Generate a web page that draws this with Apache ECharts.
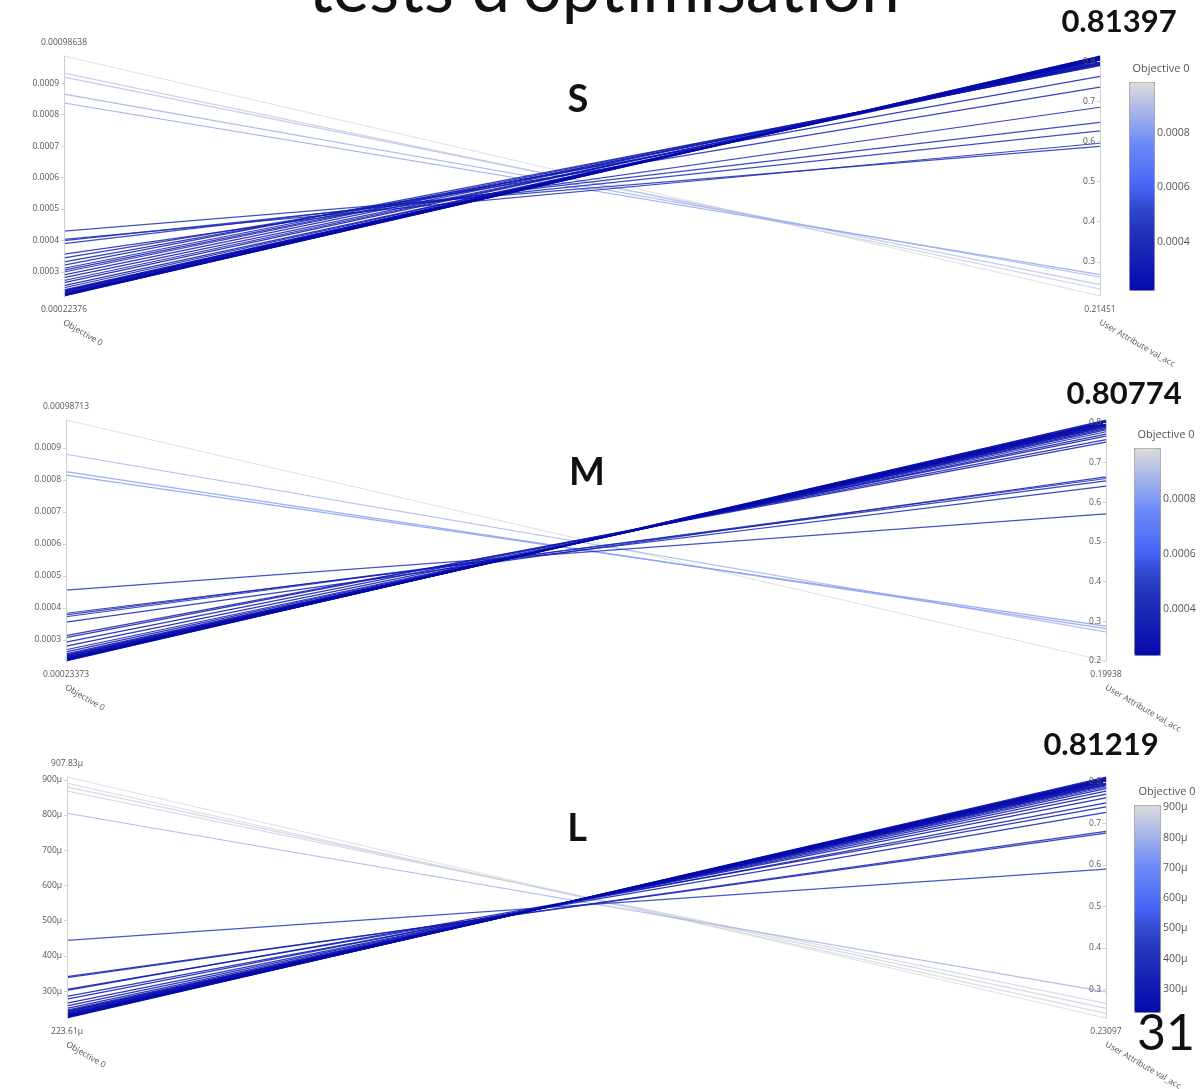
<!DOCTYPE html>
<html><head><meta charset="utf-8">
<script src="https://cdn.jsdelivr.net/npm/echarts@6/dist/echarts.min.js"></script>
<style>html,body{margin:0;padding:0;background:#fff}#c{width:1203px;height:1089px}</style>
</head><body><div id="c"></div>
<script>
// ---- data ----
const slideTitle = "tests d'optimisation";
const pageNumber = '31';
const panelNames = ['S', 'M', 'L'];
const axisNames = ['Objective 0', 'User Attribute val_acc'];

const sObj = [0.00098638, 0.000932, 0.000919, 0.000865, 0.000837,
  0.000430, 0.000404, 0.000400, 0.000390, 0.000357, 0.000345, 0.000332,
  0.000322, 0.000312, 0.000306, 0.000300, 0.000291, 0.000282, 0.000273, 0.000266, 0.000257, 0.000250,
  0.000243, 0.000241, 0.000239, 0.000237, 0.000235, 0.000233, 0.000231, 0.000230, 0.000229, 0.000228, 0.000227, 0.000226, 0.000225, 0.00022376];
const sAcc = [0.21451, 0.232, 0.243, 0.262, 0.268,
  0.588, 0.596, 0.627, 0.648, 0.686, 0.736, 0.763,
  0.790, 0.793, 0.791, 0.795, 0.797, 0.794, 0.799, 0.801, 0.798, 0.803,
  0.804, 0.806, 0.805, 0.807, 0.808, 0.806, 0.809, 0.810, 0.808, 0.811, 0.812, 0.810, 0.813, 0.81397];

const mObj = [0.00098713, 0.000880, 0.000826, 0.000815,
  0.000455, 0.000383, 0.000378, 0.000372, 0.000355, 0.000313, 0.000307, 0.000293,
  0.000280, 0.000269, 0.000262, 0.000256, 0.000253, 0.000250, 0.000248, 0.000246, 0.000244, 0.000242,
  0.000241, 0.000240, 0.000239, 0.000238, 0.000237, 0.000236, 0.000235, 0.00023373];
const mAcc = [0.19938, 0.273, 0.281, 0.2875,
  0.571, 0.641, 0.654, 0.660, 0.664, 0.752, 0.758, 0.767,
  0.772, 0.778, 0.783, 0.786, 0.789, 0.791, 0.793, 0.795, 0.797, 0.796,
  0.799, 0.800, 0.802, 0.801, 0.804, 0.803, 0.806, 0.80774];

const lObj = [0.00090783, 0.000890, 0.000880, 0.000868, 0.000805,
  0.000444, 0.000341, 0.000338, 0.000305, 0.000302, 0.000285, 0.000277,
  0.000266, 0.000258, 0.000251, 0.000246, 0.000243, 0.000241, 0.000239, 0.000237, 0.000235,
  0.000234, 0.000233, 0.000231, 0.000230, 0.000229, 0.000228, 0.000227, 0.000226, 0.000225, 0.00022361];
const lAcc = [0.23097, 0.242, 0.254, 0.266, 0.294,
  0.590, 0.677, 0.681, 0.727, 0.740, 0.750, 0.762,
  0.771, 0.778, 0.784, 0.788, 0.791, 0.793, 0.795, 0.797, 0.799,
  0.801, 0.800, 0.803, 0.805, 0.804, 0.807, 0.806, 0.809, 0.810, 0.81219];

// ---- layout / style ----
const blues = ['#050aac','#0f18b1','#1927b6','#2335bb','#3249d0','#4664f5','#5a78f5','#6a89f7','#90a5ee','#b6c0e5','#dcdcdc'];
const plainFont = "'Open Sans', 'DejaVu Sans', sans-serif";
const slideFont = "Lato, 'Open Sans', sans-serif";

const panels = [
  { name: panelNames[0], obj: sObj, acc: sAcc, micro: false,
    box: { left: 64, top: 56, width: 1036, height: 240 },
    cb: { left: 1129, top: 82, w: 25, h: 208 }, cbTitleX: 1161,
    tag: { x: 578, y: 100 }, big: { x: 1119, y: 22 } },
  { name: panelNames[1], obj: mObj, acc: mAcc, micro: false,
    box: { left: 66, top: 420, width: 1040, height: 241 },
    cb: { left: 1134, top: 448, w: 26, h: 207 }, cbTitleX: 1166,
    tag: { x: 587, y: 473 }, big: { x: 1124, y: 394 } },
  { name: panelNames[2], obj: lObj, acc: lAcc, micro: true,
    box: { left: 67, top: 777, width: 1039, height: 241 },
    cb: { left: 1134, top: 805, w: 26, h: 207 }, cbTitleX: 1167,
    tag: { x: 577, y: 829 }, big: { x: 1101, y: 745 } }
];

function objFmt(micro, digits) {
  return v => micro ? (v * 1e6).toFixed(digits === undefined ? 0 : 2) + 'μ'
                    : (digits === undefined ? String(+v.toFixed(6)) : v.toFixed(8));
}

const parallel = [], parallelAxis = [], series = [], visualMap = [], grid = [], xAxis = [], yAxis = [], graphic = [];

function txt(x, y, text, size, opts) {
  opts = opts || {};
  graphic.push({
    type: 'text', x: x, y: y, rotation: opts.rotation || 0, z: 100,
    style: {
      text: text, fill: opts.color || '#555',
      font: (opts.weight || 'normal') + ' ' + size + 'px ' + (opts.family || plainFont),
      align: opts.align || 'center', verticalAlign: opts.valign || 'middle',
      textAlign: opts.align || 'center', textVerticalAlign: opts.valign || 'middle'
    }
  });
}

panels.forEach((p, i) => {
  const oMin = Math.min(...p.obj), oMax = Math.max(...p.obj);
  const aMin = Math.min(...p.acc), aMax = Math.max(...p.acc);
  parallel.push({ left: p.box.left, top: p.box.top, width: p.box.width, height: p.box.height, layout: 'horizontal' });
  const axisCommon = {
    parallelIndex: i, type: 'value',
    axisLine: { lineStyle: { color: '#cfcfcf', width: 1 } },
    axisTick: { length: -3, lineStyle: { color: '#cfcfcf' } },
    splitLine: { show: false },
    axisLabel: { fontSize: 8.5, color: '#555', fontFamily: plainFont, margin: -5, align: 'right',
      showMinLabel: false, showMaxLabel: false }
  };
  parallelAxis.push(Object.assign({}, axisCommon, { dim: 0, min: oMin, max: oMax, splitNumber: 7,
    axisLabel: Object.assign({}, axisCommon.axisLabel, { formatter: objFmt(p.micro) }) }));
  parallelAxis.push(Object.assign({}, axisCommon, { dim: 1, min: aMin, max: aMax, splitNumber: 6,
    axisLabel: Object.assign({}, axisCommon.axisLabel, { formatter: v => String(+v.toFixed(2)) }) }));
  series.push({
    type: 'parallel', parallelIndex: i,
    lineStyle: { width: 1.2, opacity: 0.85 },
    data: p.obj.map((v, k) => [v, p.acc[k]])
  });
  visualMap.push({
    type: 'continuous', seriesIndex: i, dimension: 0, min: oMin, max: oMax,
    calculable: false, realtime: false, left: p.cb.left, top: p.cb.top,
    itemWidth: p.cb.w, itemHeight: p.cb.h, padding: 0,
    borderColor: '#9a9a9a', borderWidth: 1,
    inRange: { color: blues }, text: null, showLabel: false
  });
  grid.push({ left: p.cb.left, top: p.cb.top, width: p.cb.w, height: p.cb.h, show: false });
  xAxis.push({ gridIndex: i, type: 'value', show: false, min: 0, max: 1 });
  yAxis.push({
    gridIndex: i, type: 'value', position: 'right', min: oMin, max: oMax,
    splitNumber: p.micro ? 7 : 4,
    axisLine: { show: false }, splitLine: { show: false },
    axisTick: { show: p.micro, length: 3, lineStyle: { color: '#888' } },
    axisLabel: { fontSize: 10.5, color: '#555', fontFamily: plainFont, margin: 3,
      showMinLabel: false, showMaxLabel: false, formatter: objFmt(p.micro) }
  });
  // range labels, axis names
  const xL = p.box.left, xR = p.box.left + p.box.width;
  const yT = p.box.top, yB = p.box.top + p.box.height;
  txt(xL, yT - 13, objFmt(p.micro, 2)(oMax), 8.5);
  txt(xL, yB + 14, objFmt(p.micro, 2)(oMin), 8.5);
  txt(xR, yB + 14, aMin.toFixed(5), 8.5);
  txt(xL + 2, yB + 22, axisNames[0], 8.5, { align: 'left', valign: 'top', rotation: -Math.PI / 6 });
  txt(xR + 2, yB + 22, axisNames[1], 8.5, { align: 'left', valign: 'top', rotation: -Math.PI / 6 });
  txt(p.cbTitleX, p.cb.top - 13, axisNames[0], 11);
  // slide overlays
  txt(p.big.x, p.big.y, aMax.toFixed(5), 31, { color: '#111', weight: 'bold', family: slideFont });
  txt(p.tag.x, p.tag.y, p.name, 38, { color: '#111', weight: 'bold', family: slideFont });
});

txt(604, -45, slideTitle, 69, { color: '#111', family: slideFont, valign: 'top' });
txt(1166, 1034, pageNumber, 50, { color: '#111', family: slideFont });

const chart = echarts.init(document.getElementById('c'));
chart.setOption({
  backgroundColor: '#ffffff',
  animation: false,
  parallel, parallelAxis, series, visualMap, grid, xAxis, yAxis, graphic
});
</script></body></html>
